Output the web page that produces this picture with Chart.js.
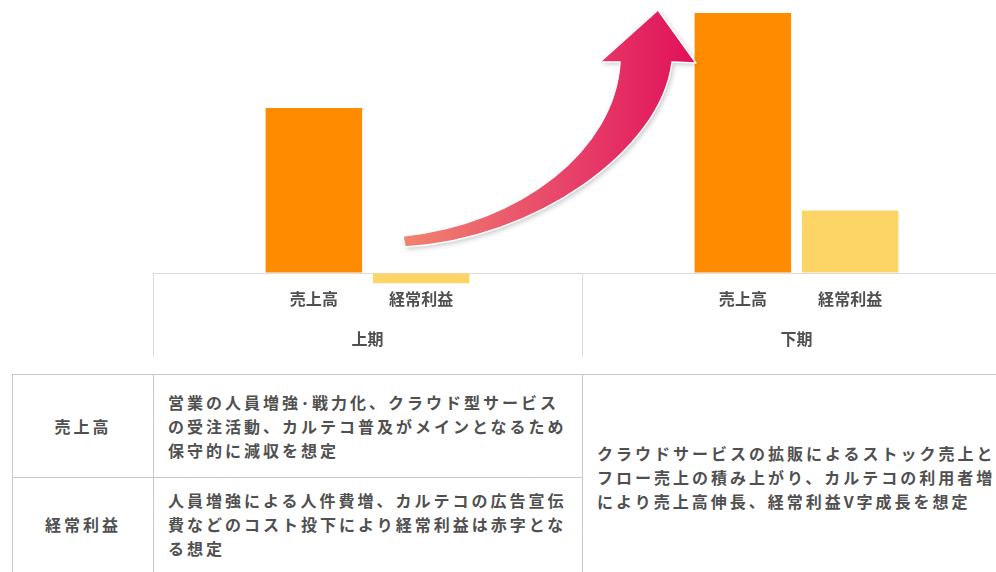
<!DOCTYPE html>
<html lang="ja">
<head>
<meta charset="utf-8">
<title>業績予想</title>
<script src="https://cdn.jsdelivr.net/npm/chart.js@4"></script>
<style>
    html, body {
        margin: 0;
        padding: 0;
        background: #fff;
        overflow: hidden;
        width: 996px;
        height: 572px;
    }
    #gyosekiChart {
        position: absolute;
        left: 0;
        top: 0;
    }
    #setsumei {
        position: absolute;
        left: 12px;
        top: 374px;
        width: 1010px;
        border-collapse: collapse;
        font-family: 'Noto Sans CJK JP', sans-serif;
        font-size: 16px;
        font-weight: bold;
        letter-spacing: 3px;
        line-height: 24px;
        color: #505050;
        table-layout: fixed;
    }
    #setsumei td {
        border: 1px solid #c8c8c8;
        white-space: nowrap;
        vertical-align: middle;
        padding: 0 0 0 14px;
        overflow: hidden;
    }
    #setsumei td.koumoku {
        text-align: center;
        padding: 0;
    }
    #setsumei tr.shita td {
        padding-bottom: 10px;
    }
</style>
</head>
<body>
<canvas id="gyosekiChart" width="1011" height="358"></canvas>

<table id="setsumei">
    <colgroup>
        <col style="width:141px">
        <col style="width:429px">
        <col style="width:440px">
    </colgroup>
    <tr style="height:103px">
        <td class="koumoku">売上高</td>
        <td>営業の人員増強･戦力化、クラウド型サービス<br>の受注活動、カルテコ普及がメインとなるため<br>保守的に減収を想定</td>
        <td rowspan="2">クラウドサービスの拡販によるストック売上と<br>フロー売上の積み上がり、カルテコの利用者増<br>により売上高伸長、経常利益V字成長を想定</td>
    </tr>
    <tr class="shita" style="height:102px">
        <td class="koumoku">経常利益</td>
        <td>人員増強による人件費増、カルテコの広告宣伝<br>費などのコスト投下により経常利益は赤字とな<br>る想定</td>
    </tr>
</table>

<script>
// 期と系列
const periods = ['上期', '下期'];
const seriesNames = ['売上高', '経常利益'];

// 値（下期売上高 = 100 とした相対値）
const uriage = [63.5, 100];
const keijoRieki = [-4, 24];

// 縦軸の範囲
const yMin = -4;
const yMax = 100;

const colors = ['#ff8c00', '#fcd566'];
const labelFont = { family: "'Noto Sans CJK JP', sans-serif", size: 16, weight: 'bold' };

// 各棒の下に出す系列名（1期につき 空・売上高・経常利益・空 の4枠）
const subLabels = periods.flatMap(() => ['', ...seriesNames, '']);

// 0 の線から下に伸びる枠線
const frameLines = {
    id: 'frameLines',
    beforeDatasetsDraw(chart) {
        const { ctx, scales: { x, y } } = chart;
        const y0 = Math.round(y.getPixelForValue(0)) + 0.5;
        const half = (x.getPixelForValue(1) - x.getPixelForValue(0)) / 2;

        ctx.save();
        ctx.strokeStyle = '#dcdcdc';
        ctx.lineWidth = 1;
        ctx.beginPath();
        for (let i = 0; i <= periods.length; i++) {
            const px = Math.round(x.getPixelForValue(i) - half) + 0.5;
            ctx.moveTo(px, y0);
            ctx.lineTo(px, chart.height - 1);
        }
        ctx.stroke();
        ctx.restore();
    }
};

// 上期から下期へ伸びる矢印
const growthArrow = {
    id: 'growthArrow',
    afterDatasetsDraw(chart) {
        const ctx = chart.ctx;

        ctx.save();
        ctx.beginPath();
        ctx.moveTo(403, 236);
        ctx.bezierCurveTo(520, 224, 615, 150, 620, 62);
        ctx.lineTo(600, 62);
        ctx.lineTo(658, 10);
        ctx.lineTo(696, 63);
        ctx.lineTo(672, 62);
        ctx.bezierCurveTo(662, 150, 535, 240, 405, 247);
        ctx.closePath();

        const grad = ctx.createLinearGradient(403, 0, 696, 0);
        grad.addColorStop(0, '#f0846f');
        grad.addColorStop(0.55, '#e8446a');
        grad.addColorStop(1, '#e0105a');

        ctx.shadowColor = 'rgba(0, 0, 0, 0.22)';
        ctx.shadowBlur = 5;
        ctx.shadowOffsetX = 2;
        ctx.shadowOffsetY = 2;
        ctx.fillStyle = grad;
        ctx.fill();

        ctx.shadowColor = 'transparent';
        ctx.strokeStyle = '#fff';
        ctx.lineWidth = 1.5;
        ctx.lineJoin = 'round';
        ctx.stroke();
        ctx.restore();
    }
};

document.addEventListener('DOMContentLoaded', function() {
    createChart();
});

function createChart() {
    const ctx = document.getElementById('gyosekiChart').getContext('2d');

    new Chart(ctx, {
        type: 'bar',
        data: {
            labels: periods,
            datasets: [
                {
                    label: seriesNames[0],
                    data: uriage,
                    backgroundColor: colors[0],
                    xAxisID: 'x'
                },
                {
                    label: seriesNames[1],
                    data: keijoRieki,
                    backgroundColor: colors[1],
                    xAxisID: 'x'
                }
            ]
        },
        options: {
            responsive: false,
            animation: false,
            devicePixelRatio: 1,
            categoryPercentage: 0.5,
            barPercentage: 0.9,
            layout: {
                padding: { left: 153, right: 0, top: 13, bottom: 0 }
            },
            plugins: {
                legend: { display: false },
                tooltip: { enabled: false }
            },
            scales: {
                x: {
                    position: 'bottom',
                    weight: 1,
                    border: { display: false },
                    grid: { display: false, drawTicks: false },
                    ticks: {
                        color: '#505050',
                        font: labelFont,
                        padding: 21,
                        maxRotation: 0
                    },
                    afterFit(axis) {
                        axis.height = 49.6;
                    }
                },
                sub: {
                    type: 'category',
                    position: 'bottom',
                    labels: subLabels,
                    min: 0,
                    max: subLabels.length - 1,
                    weight: 0,
                    border: { display: false },
                    grid: { display: false, drawTicks: false },
                    ticks: {
                        color: '#505050',
                        font: labelFont,
                        padding: 6,
                        autoSkip: false,
                        maxRotation: 0
                    },
                    afterFit(axis) {
                        axis.height = 25;
                    }
                },
                y: {
                    min: yMin,
                    max: yMax,
                    border: { display: false },
                    ticks: { display: false },
                    grid: {
                        drawTicks: false,
                        color: '#dcdcdc',
                        lineWidth: 1
                    },
                    afterBuildTicks(axis) {
                        axis.ticks = [{ value: 0 }];
                    },
                    afterFit(axis) {
                        axis.width = 0;
                    }
                }
            }
        },
        plugins: [frameLines, growthArrow]
    });
}
</script>
</body>
</html>
